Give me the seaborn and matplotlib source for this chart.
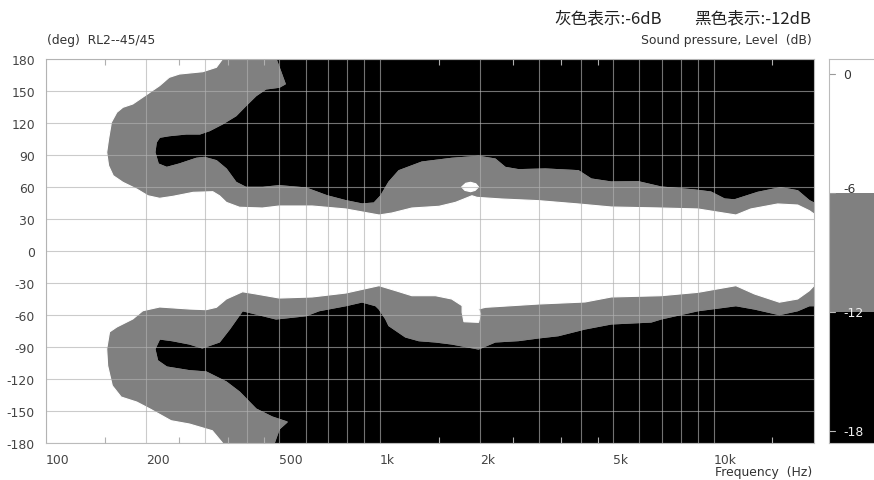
import matplotlib
matplotlib.use("Agg")
import matplotlib.pyplot as plt
from matplotlib.ticker import FixedLocator, NullFormatter
import seaborn as sns

# ---------------- data (frequency in Hz, angle in degrees) ----------------
F_MIN, F_MAX = 100, 20000
A_MIN, A_MAX = -180, 180

# -12 dB contour (grey / black), upper half: from top edge, into the black finger, out to 20 kHz
up12_hz = [489, 506, 521, 500, 456, 426, 397, 371, 338, 309, 289, 263, 234, 219, 214, 212,
           217, 230, 251, 282, 298, 324, 347, 371, 397, 446, 500, 601, 695, 791, 885, 961,
           1007, 1065, 1141, 1337, 1643, 1977, 2218, 2377, 2606, 3133, 3936, 4303, 4940,
           5946, 6966, 8790, 9820, 10790, 11560, 13570, 15890, 17870, 19370, 20000]
up12_deg = [180, 167.5, 156.6, 153.5, 151.9, 145.6, 136.2, 126.8, 119.1, 112.8, 109.7, 109.7,
            108.1, 106.6, 101.9, 92.5, 81.6, 78.4, 81.6, 86.9, 87.8, 84.7, 76.9, 64.4, 59.7,
            59.7, 61.25, 59.1, 51.8, 47.2, 44.1, 45, 51.8, 64.7, 75.3, 83.4, 86.9, 88.8, 86.25,
            78.4, 76.25, 76.9, 75.3, 67.5, 64.7, 65, 60, 57.2, 55.3, 48.75, 48, 55, 59.4, 56.5,
            47.2, 45]

# -6 dB contour (white / grey), upper half
up6_hz = [338, 324, 295, 251, 234, 219, 198, 182, 170, 163, 157, 154, 152, 154, 159, 170, 187,
          202, 219, 240, 276, 316, 331, 347, 380, 445, 500, 627, 791, 995, 1087, 1248, 1505,
          1686, 1787, 1889, 1955, 2320, 2992, 3936, 4940, 6966, 8984, 11670, 12930, 15570,
          17870, 19370, 20000]
up6_deg = [180, 172.2, 168.1, 165.9, 162.8, 155, 145.6, 137.8, 134.7, 130, 120.6, 105, 92.5, 80,
           70.6, 64.4, 58.1, 51.8, 49.4, 51.25, 55, 55.6, 51.8, 45.6, 41, 40.3, 42.2, 42.2, 39.4,
           33.75, 35.6, 40.3, 41.9, 45.6, 48.75, 51.8, 50.3, 48.75, 47.2, 44.1, 41.25, 40.3,
           39.4, 33.75, 39.4, 44.1, 43.1, 37.8, 34.7]

# -6 dB contour, lower half (from 20 kHz back to the bottom edge)
lo6_hz = [20000, 19370, 17870, 15750, 13270, 11670, 8984, 6966, 4940, 4121, 2992, 2072, 1977,
          2005, 1977, 1787, 1765, 1765, 1643, 1469, 1248, 1116, 995, 791, 627, 500, 426, 388,
          347, 324, 302, 269, 219, 195, 182, 163, 155, 152, 153, 158, 168, 187, 205, 237, 269,
          315, 338]
lo6_deg = [-32.5, -37.2, -45, -48, -40.3, -32.5, -38.75, -41.9, -43.1, -47.8, -49.7, -52.8,
           -54.4, -59, -66.9, -66.3, -57.5, -51.3, -45, -41.9, -41.9, -37.2, -32.5, -39.4, -43.1,
           -44.1, -40.3, -38.2, -45, -52.8, -55, -54.4, -52.5, -56, -63.75, -71.25, -75.9,
           -91.9, -107.5, -126.3, -136.9, -141.6, -148.1, -159.1, -162.2, -168.5, -180]

# -12 dB contour, lower half
lo12_hz = [20000, 19370, 17870, 15750, 13270, 11670, 8984, 6966, 6503, 4940, 4121, 3428, 2992,
           2606, 2218, 1977, 1643, 1469, 1310, 1194, 1065, 1042, 995, 972, 885, 791, 658, 601,
           489, 426, 388, 355, 331, 294, 269, 239, 219, 212, 216, 230, 269, 302, 347, 380, 426,
           476, 528, 500, 483]
lo12_deg = [-51.3, -51.3, -56, -59.7, -54.4, -51.3, -56, -63.75, -66.6, -68.4, -73.1, -79.4,
            -81.5, -84, -85.3, -91.9, -87.2, -85.3, -84.1, -80.6, -70, -63.75, -54.4, -51.3,
            -47.8, -51.3, -56, -60.7, -63.75, -59.1, -56, -73.1, -85.3, -90.9, -87.2, -84.1,
            -82.5, -91.9, -102.8, -108.75, -112.2, -113.4, -122.8, -132.2, -148.1, -155.6,
            -160.3, -166.9, -180]

# small -6 dB island near 1.9 kHz, +60 deg
isl_hz = [1759, 1810, 1871, 1940, 1977, 1930, 1871, 1800]
isl_deg = [60, 63.5, 64.4, 63, 60, 56.8, 55.6, 56.8]

grid_hz = [100, 200, 300, 400, 500, 600, 700, 800, 900,
           1000, 2000, 3000, 4000, 5000, 6000, 7000, 8000, 9000, 10000]
label_hz = {100: "100", 200: "200", 500: "500", 1000: "1k", 2000: "2k", 5000: "5k", 10000: "10k"}
minor_hz = [150, 250, 350, 450, 1500, 2500, 3500, 4500, 15000]
angle_ticks = list(range(-180, 181, 30))

cb_levels = [0, -6, -12, -18]
cb_labels = ["0", "-6", "-12", "-18"]
cb_range = (-18.6, 0.76)

GREY = "#808080"
FS = 8.9

# ---------------- figure ----------------
sns.set_style("white")
plt.rcParams["font.family"] = ["DejaVu Sans"]
plt.rcParams["axes.unicode_minus"] = False

W, H = 874, 481
fig = plt.figure(figsize=(W / 100, H / 100), dpi=100)
ax = fig.add_axes([46 / W, 1 - 444 / H, (814 - 46) / W, 384 / H])
ax.set_xscale("log")
ax.set_xlim(F_MIN, F_MAX)
ax.set_ylim(A_MIN, A_MAX)
ax.set_facecolor("black")

gray_x = [F_MIN] + up12_hz + lo12_hz + [F_MIN]
gray_y = [A_MAX] + up12_deg + lo12_deg + [A_MIN]
white_x = [F_MIN] + up6_hz + lo6_hz + [F_MIN]
white_y = [A_MAX] + up6_deg + lo6_deg + [A_MIN]

ax.fill(gray_x, gray_y, facecolor=GREY, edgecolor=GREY, lw=0.8, zorder=1)
ax.fill(white_x, white_y, facecolor="white", edgecolor="white", lw=0.8, zorder=1.2)
ax.fill(isl_hz, isl_deg, facecolor="white", edgecolor="white", lw=0.8, zorder=1.3)

# contour lines through seaborn (same colours as the fills, smooths edges)
sns.lineplot(x=up12_hz, y=up12_deg, sort=False, estimator=None, color=GREY, lw=0.8, ax=ax, zorder=1.1)
sns.lineplot(x=lo12_hz, y=lo12_deg, sort=False, estimator=None, color=GREY, lw=0.8, ax=ax, zorder=1.1)

ax.set_xticks(grid_hz)
ax.set_xticklabels([label_hz.get(v, "") for v in grid_hz])
ax.xaxis.set_minor_locator(FixedLocator(minor_hz))
ax.xaxis.set_minor_formatter(NullFormatter())
ax.tick_params(axis="x", which="major", length=0, pad=7, labelsize=FS, labelcolor="#444444")
ax.tick_params(axis="x", which="minor", length=4, width=0.8, direction="in",
               top=True, bottom=True, color="#b0b0b0")
plt.setp(ax.get_xticklabels(), ha="left")
ax.set_yticks(angle_ticks)
ax.tick_params(axis="y", length=0, pad=8, labelsize=FS, labelcolor="#444444")
ax.set_xlabel("")
ax.set_ylabel("")
ax.grid(True, which="major", color="#b0b0b0", alpha=0.65, lw=0.8)
ax.grid(False, which="minor")
ax.set_axisbelow(False)
for s in ax.spines.values():
    s.set_visible(True)
    s.set_color("#bbbbbb")
    s.set_linewidth(0.8)

# ---------------- colour bar ----------------
cax = fig.add_axes([829 / W, 1 - 444 / H, 0.1, 384 / H])
cax.set_xlim(0, 1)
cax.set_ylim(*cb_range)
cax.axhspan(-6, cb_range[1], color="white", lw=0)
cax.axhspan(-12, -6, color=GREY, lw=0)
cax.axhspan(cb_range[0], -12, color="black", lw=0)
cax.set_xticks([])
cax.set_yticks([])
for s in cax.spines.values():
    s.set_color("#bbbbbb")
    s.set_linewidth(0.8)
for v, lab in zip(cb_levels, cb_labels):
    col = "#333333" if v > -9 else "#f0f0f0"
    tcol = "#999999" if v > -9 else "#bbbbbb"
    cax.plot([0, 0.07], [v, v], color=tcol, lw=0.8)
    cax.text(0.16, v + (0.25 if v == -6 else 0), lab, color=col, fontsize=FS, ha="left", va="center")

# ---------------- texts ----------------
txt = "#333333"
fig.text(47 / W, 1 - 41 / H, "(deg)  RL2--45/45", fontsize=FS, color=txt, ha="left", va="center")
fig.text(812 / W, 1 - 41 / H, "Sound pressure, Level  (dB)", fontsize=FS, color=txt,
         ha="right", va="center")
fig.text(812 / W, 1 - 473 / H, "Frequency  (Hz)", fontsize=FS, color=txt, ha="right", va="center")
cjk = ["Noto Sans CJK SC", "DejaVu Sans"]
fig.text(554 / W, 1 - 19 / H, "灰色表示:-6dB", family=cjk, fontsize=12, color="#222222",
         ha="left", va="center")
fig.text(811 / W, 1 - 19 / H, "黑色表示:-12dB", family=cjk, fontsize=12, color="#222222",
         ha="right", va="center")

fig.savefig("out.png", dpi=100)
